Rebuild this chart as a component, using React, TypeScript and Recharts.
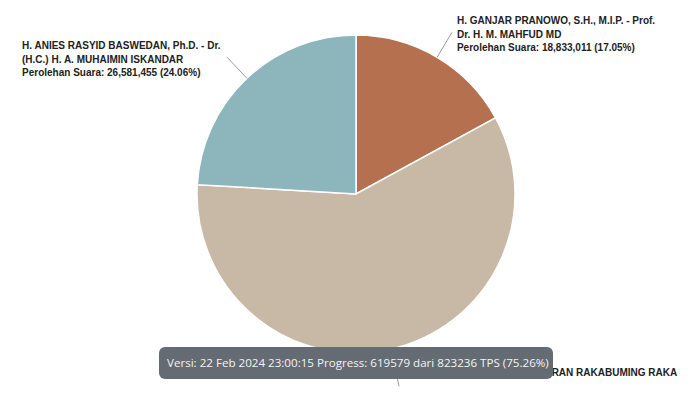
import { PieChart, Pie, Cell } from "recharts";

const candidates = ["Ganjar-Mahfud", "Prabowo-Gibran", "Anies-Muhaimin"];
const votes = [18833011, 65049870, 26581455];
const percents = ["17.05%", "58.89%", "24.06%"];
const nameLines = [
    ["H. GANJAR PRANOWO, S.H., M.I.P. - Prof.", "Dr. H. M. MAHFUD MD"],
    ["H. PRABOWO SUBIANTO - GIBRAN RAKABUMING RAKA"],
    ["H. ANIES RASYID BASWEDAN, Ph.D. - Dr.", "(H.C.) H. A. MUHAIMIN ISKANDAR"],
];
const colors = ["#b4704f", "#c8b8a6", "#8db6bc"];

const versionText = "Versi: 22 Feb 2024 23:00:15 Progress: 619579 dari 823236 TPS (75.26%)";

const data = candidates.map((name, i) => ({ name, value: votes[i], idx: i }));

const W = 700;
const H = 393;
const RAD = Math.PI / 180;
const LINE_H = 13.5;
const LEFT_LABEL_W = 200;

function renderLabel(props: any) {
    const { cx, cy, midAngle, outerRadius, index } = props;
    const cos = Math.cos(-midAngle * RAD);
    const sin = Math.sin(-midAngle * RAD);
    const sx = cx + outerRadius * cos;
    const sy = cy + outerRadius * sin;
    const len = sin > 0.9 ? 38 : 29;
    const ex = cx + (outerRadius + len) * cos;
    const ey = cy + (outerRadius + len) * sin;
    const right = cos >= 0;
    const lines = [
        ...nameLines[index],
        `Perolehan Suara: ${votes[index].toLocaleString("en-US")} (${percents[index]})`,
    ];
    const tx = right ? ex + 5 : ex - 5 - LEFT_LABEL_W;
    // bottom labels sit just above the connector end, others are centred on it
    const y0 = sin > 0.9 ? ey - 14 : ey + 2 - ((lines.length - 1) * LINE_H) / 2;
    // lines running off the bottom edge are cut, as in the screenshot
    const shown = lines.filter((_, i) => y0 + i * LINE_H + 10 < H);
    return (
        <g key={`lbl-${index}`}>
            <line x1={sx} y1={sy} x2={ex} y2={ey} stroke="#9a9a9a" strokeWidth={1} />
            <text
                x={tx}
                y={y0}
                fill="#222"
                fontFamily="'Liberation Sans', Arial, sans-serif"
                fontSize={10}
                fontWeight="bold"
            >
                {shown.map((l, i) => (
                    <tspan key={i} x={tx} y={y0 + i * LINE_H} dominantBaseline="central">
                        {l}
                    </tspan>
                ))}
            </text>
        </g>
    );
}

export default function App() {
    return (
        <div style={{ position: "absolute", left: 0, top: 0, width: W, height: H, background: "#fff", overflow: "hidden" }}>
            <PieChart width={W} height={H} margin={{ top: 0, right: 0, bottom: 0, left: 0 }}>
                <Pie
                    data={data}
                    dataKey="value"
                    nameKey="name"
                    cx={356}
                    cy={194}
                    outerRadius={159}
                    startAngle={90}
                    endAngle={-270}
                    stroke="#ffffff"
                    strokeWidth={1.5}
                    label={renderLabel}
                    labelLine={false}
                    isAnimationActive={false}
                >
                    {data.map((d) => (
                        <Cell key={d.name} fill={colors[d.idx]} />
                    ))}
                </Pie>
            </PieChart>
            <div
                style={{
                    position: "absolute",
                    left: 159,
                    top: 347,
                    width: 394,
                    height: 32,
                    borderRadius: 6,
                    background: "#646b72",
                    color: "#f4f4f4",
                    fontFamily: "'Open Sans', 'Noto Sans', sans-serif",
                    fontSize: 11.6,
                    lineHeight: "31px",
                    paddingLeft: 8,
                    boxSizing: "border-box",
                    whiteSpace: "nowrap",
                }}
            >
                {versionText}
            </div>
        </div>
    );
}
